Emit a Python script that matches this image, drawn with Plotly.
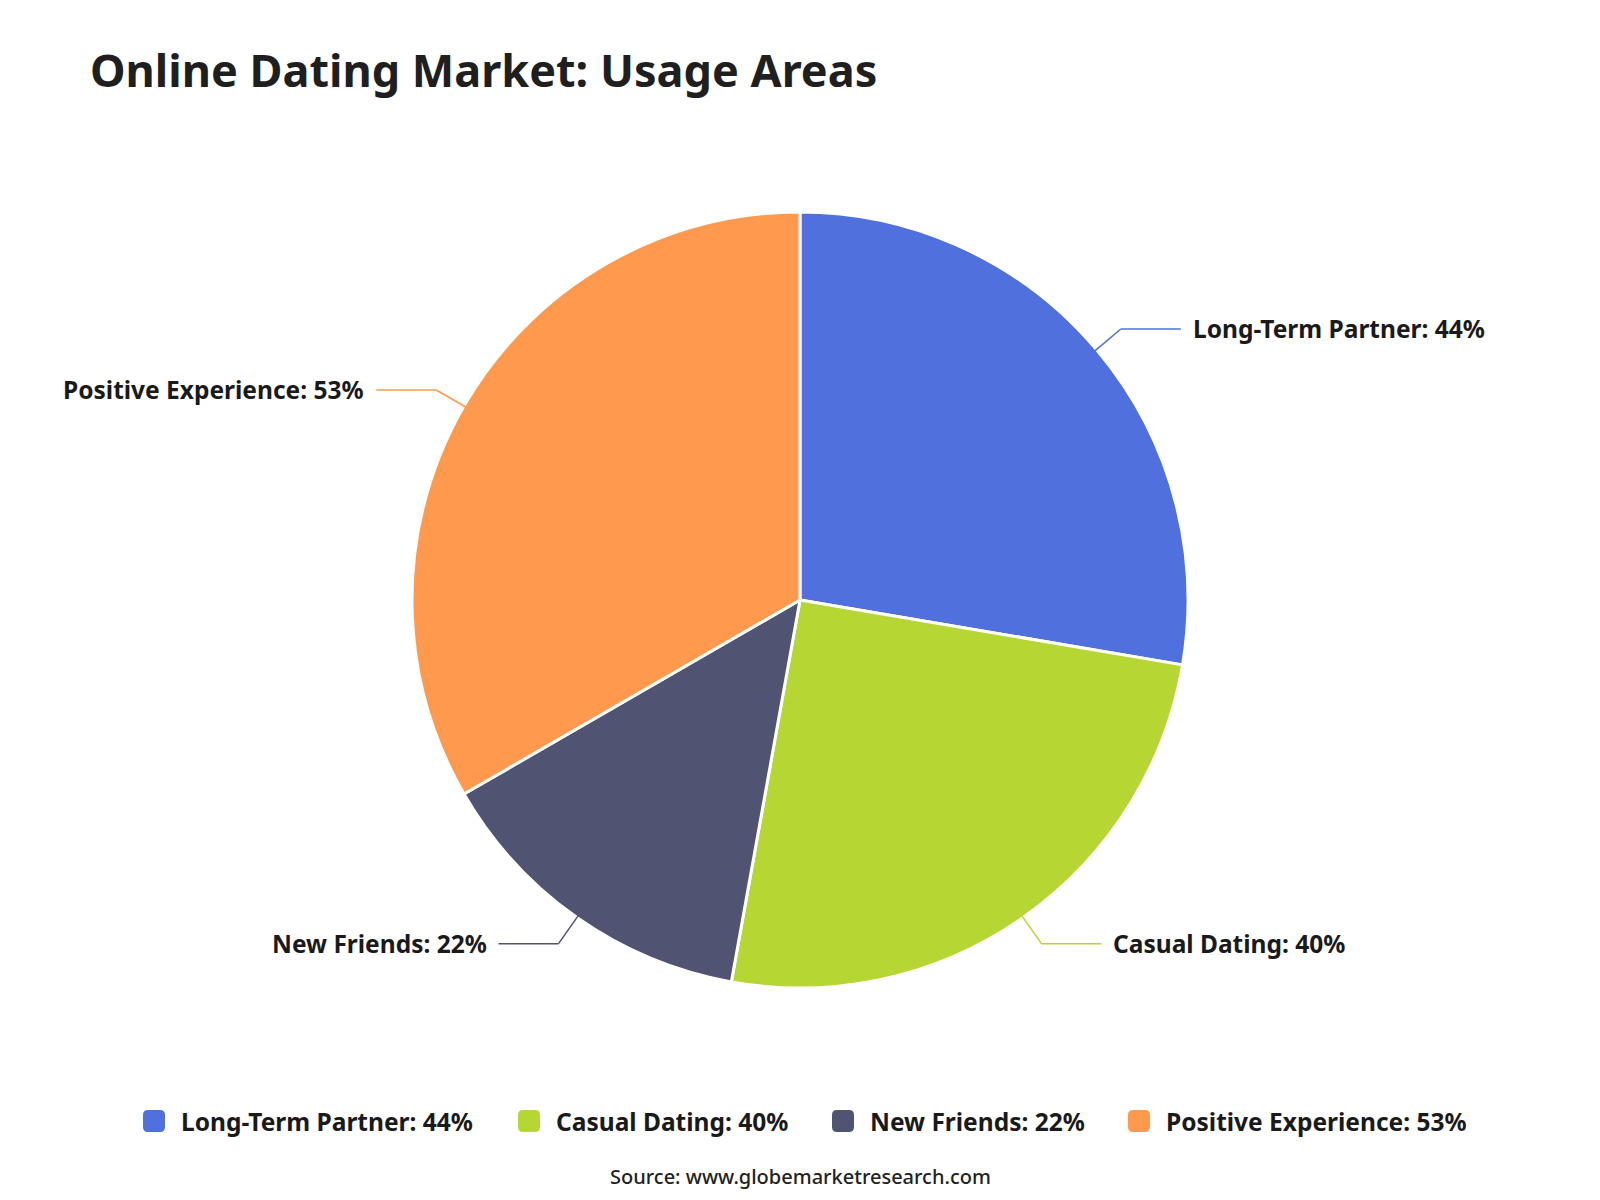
import math
import plotly.graph_objects as go

categories = ["Long-Term Partner", "Casual Dating", "New Friends", "Positive Experience"]
values = [44, 40, 22, 53]
colors = ["#5070DD", "#B6D634", "#505372", "#FF994D"]
labels = [f"{c}: {v}%" for c, v in zip(categories, values)]

W, H = 1600, 1200
CX, CY, R = 800, 600, 388
FONT = "Noto Sans, Open Sans, Roboto, sans-serif"
LABEL_SIZE = 24.5

fig = go.Figure()
fig.add_trace(go.Pie(
    labels=labels,
    values=values,
    sort=False,
    direction="clockwise",
    rotation=0,
    textinfo="none",
    hoverinfo="label",
    showlegend=False,
    marker=dict(colors=colors, line=dict(color="#ffffff", width=3)),
    domain=dict(x=[(CX - R) / W, (CX + R) / W], y=[0.5 - R / H, 0.5 + R / H]),
))


def px(x):
    return x / W


def py(y):
    return 1 - y / H


shapes = []
annotations = []
total = sum(values)
acc = 0.0
L1, L2 = 32, 60
for lab, v, col in zip(labels, values, colors):
    mid = (acc + v / 2) / total * 2 * math.pi
    acc += v
    sx, sy = math.sin(mid), -math.cos(mid)
    p0 = (CX + (R - 2) * sx, CY + (R - 2) * sy)
    p1 = (CX + (R + L1) * sx, CY + (R + L1) * sy)
    side = 1 if sx >= 0 else -1
    p2 = (p1[0] + side * L2, p1[1])
    for a, b in ((p0, p1), (p1, p2)):
        shapes.append(dict(type="line", xref="paper", yref="paper",
                           x0=px(a[0]), y0=py(a[1]), x1=px(b[0]), y1=py(b[1]),
                           line=dict(color=col, width=1.5)))
    annotations.append(dict(
        x=px(p2[0] + side * 10), y=py(p2[1]), xref="paper", yref="paper",
        text=f"<b>{lab}</b>", showarrow=False,
        xanchor="left" if side > 0 else "right", yanchor="middle",
        font=dict(family=FONT, size=LABEL_SIZE, color="#1a1a1a"),
    ))

# custom legend (rounded swatches) below the pie
legend_x = [154, 529, 843, 1139]   # swatch centres in px
legend_y = 1121
sw = 22
rad = 5
for lab, col, lx in zip(labels, colors, legend_x):
    x0, x1 = lx - sw / 2, lx + sw / 2
    y0, y1 = legend_y - sw / 2, legend_y + sw / 2
    path = (
        f"M {px(x0 + rad)},{py(y0)} L {px(x1 - rad)},{py(y0)} "
        f"Q {px(x1)},{py(y0)} {px(x1)},{py(y0 + rad)} "
        f"L {px(x1)},{py(y1 - rad)} Q {px(x1)},{py(y1)} {px(x1 - rad)},{py(y1)} "
        f"L {px(x0 + rad)},{py(y1)} Q {px(x0)},{py(y1)} {px(x0)},{py(y1 - rad)} "
        f"L {px(x0)},{py(y0 + rad)} Q {px(x0)},{py(y0)} {px(x0 + rad)},{py(y0)} Z"
    )
    shapes.append(dict(type="path", xref="paper", yref="paper", path=path,
                       fillcolor=col, line=dict(width=0)))
    annotations.append(dict(
        x=px(x1 + 14), y=py(legend_y), xref="paper", yref="paper",
        text=f"<b>{lab}</b>", showarrow=False,
        xanchor="left", yanchor="middle",
        font=dict(family=FONT, size=LABEL_SIZE, color="#1a1a1a"),
    ))

annotations.append(dict(
    x=0.5, y=py(1176), xref="paper", yref="paper",
    text="Source: www.globemarketresearch.com", showarrow=False,
    xanchor="center", yanchor="middle",
    font=dict(family=FONT, size=20, color="#222222", weight=500),
))

fig.update_layout(
    width=W, height=H,
    margin=dict(l=0, r=0, t=0, b=0),
    paper_bgcolor="#ffffff",
    plot_bgcolor="#ffffff",
    title=dict(
        text="<b>Online Dating Market: Usage Areas</b>",
        x=px(90), xanchor="left", xref="paper",
        y=py(71), yanchor="middle", yref="paper",
        font=dict(family=FONT, size=45, color="#1f1f1f"),
    ),
    showlegend=False,
    shapes=shapes,
    annotations=annotations,
)

fig.write_html("out.html")
